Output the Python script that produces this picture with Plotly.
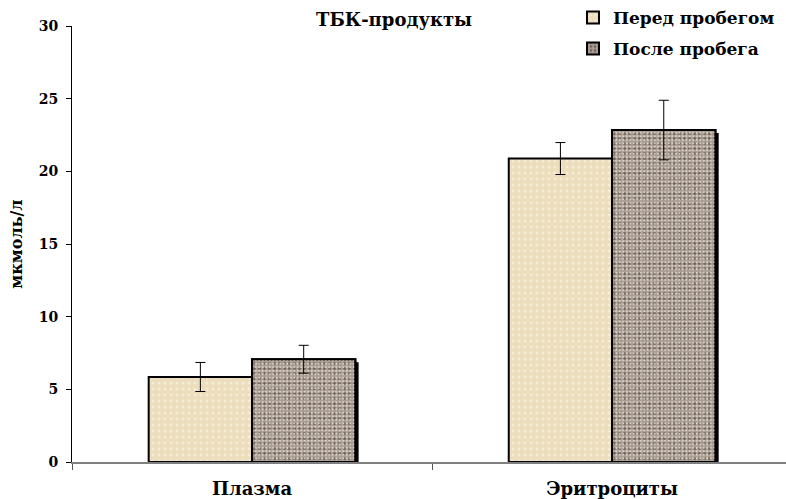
import plotly.graph_objects as go

# Data: TBA-reactive products, µmol/L, before and after the run
categories = ["Плазма", "Эритроциты"]
before_vals = [5.85, 20.88]
before_err = [1.0, 1.1]
after_vals = [7.07, 22.84]
after_err = [0.96, 2.05]
series_names = ["Перед пробегом", "После пробега"]
y_ticks = [0, 5, 10, 15, 20, 25, 30]

FONT = "DejaVu Serif"
BAR_W = 0.287
SHADOW_DX = 0.009
SHADOW_DY = 0.2

fig = go.Figure()

# Drop shadows behind each bar
for vals, off in ((before_vals, -BAR_W), (after_vals, 0.0)):
    fig.add_trace(go.Bar(
        x=categories, y=[v - SHADOW_DY for v in vals],
        width=BAR_W, offset=off + SHADOW_DX,
        marker=dict(color="black", line=dict(width=0)),
        showlegend=False, hoverinfo="skip"))

# "Before" bars: pale beige with faint speckle
fig.add_trace(go.Bar(
    x=categories, y=before_vals, name=f"<b>{series_names[0]}</b>",
    width=BAR_W, offset=-BAR_W,
    marker=dict(color="#eee0c0",
                line=dict(color="black", width=2),
                pattern=dict(shape=".", size=6, solidity=0.2,
                             fgcolor="#f5ecd8", bgcolor="#ecddbc",
                             fillmode="replace")),
    error_y=dict(type="data", array=before_err, color="black",
                 thickness=1, width=5),
    legend="legend"))

# "After" bars: grey-brown granite texture (dark speckle + light speckle)
fig.add_trace(go.Bar(
    x=categories, y=after_vals, name=f"<b>{series_names[1]}</b>",
    width=BAR_W, offset=0.0,
    marker=dict(color="#a3958a",
                line=dict(color="black", width=2),
                pattern=dict(shape=".", size=5, solidity=0.3,
                             fgcolor="#6e625a", bgcolor="#a89a8f",
                             fillmode="replace")),
    legend="legend2"))
fig.add_trace(go.Bar(
    x=categories, y=after_vals,
    width=BAR_W, offset=0.0,
    marker=dict(color="rgba(0,0,0,0)",
                line=dict(color="black", width=2),
                pattern=dict(shape=".", size=3.5, solidity=0.35,
                             fgcolor="rgba(222,214,206,0.9)",
                             bgcolor="rgba(0,0,0,0)",
                             fillmode="replace")),
    error_y=dict(type="data", array=after_err, color="black",
                 thickness=1, width=5),
    showlegend=False, hoverinfo="skip"))

legend_font = dict(family=FONT, size=17, color="black")
legend_common = dict(xref="container", yref="container",
                     x=573 / 786, xanchor="left", yanchor="middle",
                     font=legend_font, bgcolor="rgba(0,0,0,0)",
                     itemwidth=30, tracegroupgap=0)
fig.update_layout(
    width=786, height=499,
    margin=dict(l=72, r=0, t=26, b=37, autoexpand=False),
    paper_bgcolor="white", plot_bgcolor="white",
    barmode="overlay",
    font=dict(family=FONT, color="black"),
    legend=dict(y=1 - 18 / 499, **legend_common),
    legend2=dict(y=1 - 49 / 499, **legend_common),
    xaxis=dict(
        type="category", range=[-0.5, 1.483],
        tickvals=categories,
        ticktext=[f"<b>{c}</b>" for c in categories],
        showline=True, linecolor="#808080", linewidth=1.5,
        ticks="outside", tickson="boundaries", ticklen=6,
        tickcolor="#555555", tickwidth=1,
        ticklabelstandoff=10,
        tickfont=dict(family=FONT, size=18, color="black"),
        showgrid=False, zeroline=False, fixedrange=True),
    yaxis=dict(
        range=[0, 30], tickvals=y_ticks,
        ticktext=[f"<b>{t}</b>" for t in y_ticks],
        showline=True, linecolor="black", linewidth=1,
        ticks="outside", ticklen=5, tickcolor="black",
        ticklabelstandoff=5,
        tickfont=dict(family=FONT, size=14, color="black"),
        title=dict(text="<b>мкмоль/л</b>",
                   font=dict(family=FONT, size=16, color="black"),
                   standoff=12),
        showgrid=False, zeroline=False),
    annotations=[dict(
        text="<b>ТБК-продукты</b>", xref="paper", yref="paper",
        x=(394 - 72) / 714, y=(462 - 18) / 437,
        xanchor="center", yanchor="middle",
        showarrow=False, font=dict(family=FONT, size=18, color="black"))],
)

fig.write_html("out.html")
